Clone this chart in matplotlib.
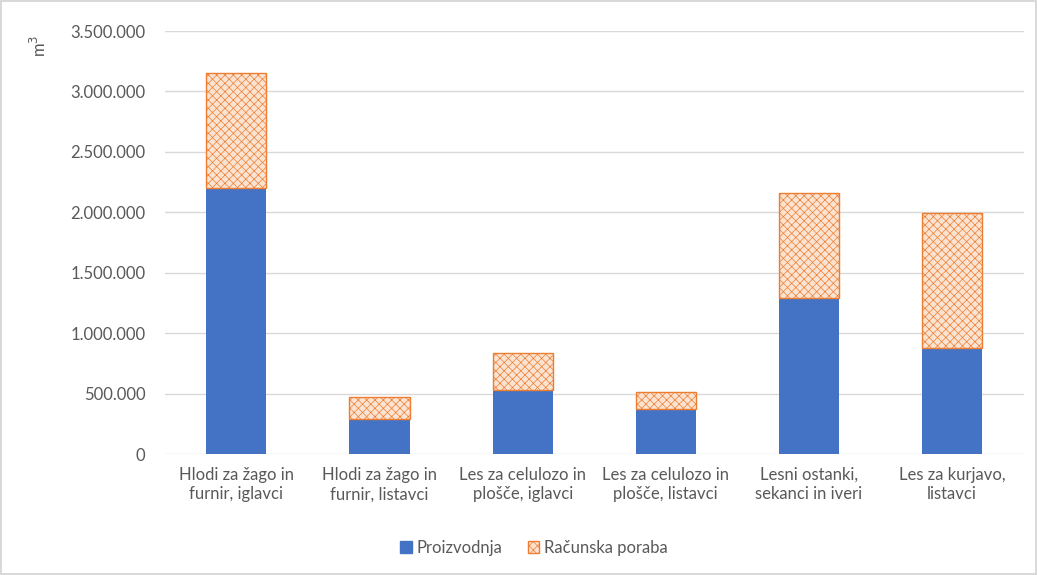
import matplotlib
matplotlib.use("Agg")
import matplotlib.pyplot as plt
from matplotlib.patches import Patch
import numpy as np

# --- Data ---
categories = [
    "Hlodi za žago in\nfurnir, iglavci",
    "Hlodi za žago in\nfurnir, listavci",
    "Les za celulozo in\nplošče, iglavci",
    "Les za celulozo in\nplošče, listavci",
    "Lesni ostanki,\nsekanci in iveri",
    "Les za kurjavo,\nlistavci",
]
proizvodnja = [2200000, 290000, 530000, 370000, 1290000, 880000]
poraba_dodatek = [950000, 180000, 305000, 140000, 870000, 1115000]
yticks = [0, 500000, 1000000, 1500000, 2000000, 2500000, 3000000, 3500000]

BLUE = "#4472C4"
ORANGE = "#ED7D31"
PEACH = "#FBE3D2"
TEXT = "#595959"
FS = 12

plt.rcParams['font.family'] = ['Lato', 'DejaVu Sans']
plt.rcParams['hatch.linewidth'] = 0.5
plt.rcParams['hatch.color'] = "#F2A36E"

fig = plt.figure(figsize=(10.37, 5.75), dpi=100)
fig.patch.set_edgecolor("#D9D9D9")
fig.patch.set_linewidth(1.5)
ax = fig.add_axes([0.159, 0.2104, 0.828, 0.7356])

x = np.arange(len(categories))
ax.bar(x, proizvodnja, width=0.42, color=BLUE, zorder=3)
ax.bar(x, poraba_dodatek, width=0.42, bottom=proizvodnja, facecolor=PEACH,
       edgecolor=ORANGE, hatch="xxxx", linewidth=1.0, zorder=3)

ax.set_xlim(-0.5, len(categories) - 0.5)
ax.set_ylim(0, 3500000)
ax.set_yticks(yticks)
ax.set_yticklabels([f"{v:,}".replace(",", ".") for v in yticks])
ax.set_xticks(x)
ax.set_xticklabels(categories, linespacing=1.3)
ax.tick_params(axis="both", length=0, labelsize=FS, colors=TEXT)
ax.tick_params(axis="y", pad=14)
ax.tick_params(axis="x", pad=9)
ax.grid(axis="y", color="#D9D9D9", linewidth=1.0, zorder=0)
for s in ax.spines.values():
    s.set_visible(False)

fig.text(0.038, 0.92, "m$^3$", rotation=90, color=TEXT, fontsize=FS,
         ha="center", va="center")

handles = [Patch(facecolor=BLUE, edgecolor=BLUE, label="Proizvodnja"),
           Patch(facecolor=PEACH, edgecolor=ORANGE, hatch="xxxx", label="Računska poraba")]
fig.legend(handles=handles, loc="center", bbox_to_anchor=(0.515, 0.047), ncol=2,
           frameon=False, fontsize=FS, labelcolor=TEXT, handlelength=0.7,
           handleheight=0.7, handletextpad=0.3, columnspacing=1.5)

fig.savefig("out.png", dpi=100)
